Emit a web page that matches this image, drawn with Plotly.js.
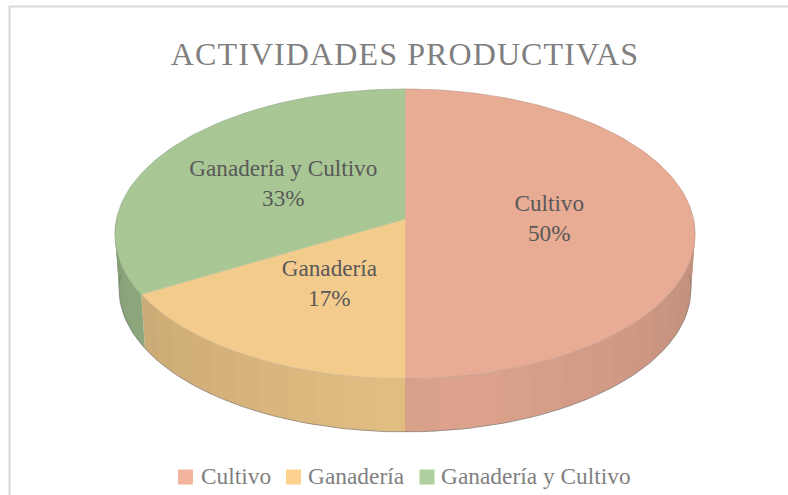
<!DOCTYPE html>
<html>
<head>
<meta charset="utf-8">
<script src="https://cdn.plot.ly/plotly-3.0.1.min.js"></script>
<style>
html,body{margin:0;padding:0;background:#fff;}
#chart{width:788px;height:495px;}
.gtitle{letter-spacing:1.1px;}
</style>
</head>
<body>
<div id="chart"></div>
<script>
const categories = ["Cultivo", "Ganadería", "Ganadería y Cultivo"];
const values = [50, 16.7, 33.3];
const topColors = ["#e8ab93", "#f3cb8c", "#a8c795"];
const legendColors = ["#f4b59e", "#fdd28f", "#aed09e"];
const titleText = "ACTIVIDADES PRODUCTIVAS";

const FONT = "'Liberation Serif','Times New Roman',serif";
const k = -0.1034, A = 143.4, B = 288.5, CX = 405, CY = 219;
const WALL_SCALE = 0.986, WALL_Y = 274.2;
const LABEL_DY = 1.5;
const LEGEND_Y = 477, LEGEND_TEXT_Y = 478, LEGEND_SWATCH = [185.5, 293.5, 427], LEGEND_TEXT = [201, 308, 441];

// Perspective projection of a point on the disc (angle clockwise from top, radius r)
function proj(deg, r, scale, y0) {
  const t = deg * Math.PI / 180;
  const u = r * Math.sin(t), v = -r * Math.cos(t), w = 1 + k * v;
  return [CX + scale * B * u / w, y0 + scale * A * v / w];
}
function topPt(d, r) { return proj(d, r === undefined ? 1 : r, 1, CY); }
function botPt(d) { return proj(d, 1, WALL_SCALE, WALL_Y); }
function shade(hex, f) {
  const n = parseInt(hex.slice(1), 16);
  const c = [n >> 16, (n >> 8) & 255, n & 255].map(x => Math.round(x * f));
  return "rgb(" + c.join(",") + ")";
}
function arc(a, b, fn) {
  const out = [], n = Math.max(2, Math.ceil(Math.abs(b - a) / 1.5));
  for (let i = 0; i <= n; i++) out.push(fn(a + (b - a) * i / n));
  return out;
}
function poly(pts, color, lineColor, lineWidth) {
  return {
    type: "scatter", mode: lineWidth === 0 ? "none" : "lines", fill: "toself", fillcolor: color,
    x: pts.map(p => p[0]), y: pts.map(p => p[1]),
    line: {color: lineColor || color, width: lineWidth === undefined ? 0.6 : lineWidth},
    showlegend: false, hoverinfo: "skip"
  };
}

const total = values.reduce((a, b) => a + b, 0);
const slices = [];
let acc = 0;
values.forEach((v, i) => {
  const start = acc / total * 360, end = (acc + v) / total * 360;
  slices.push({start, end, mid: (start + end) / 2, i});
  acc += v;
});

const traces = [];
// side walls, front half only
slices.forEach(s => {
  const a = Math.max(s.start, 90), b = Math.min(s.end, 270);
  if (b <= a) return;
  const n = Math.ceil((b - a) / 6);
  for (let j = 0; j < n; j++) {
    const d0 = a + (b - a) * j / n, d1 = a + (b - a) * (j + 1) / n;
    const f = 0.95 - 0.0016 * Math.abs((d0 + d1) / 2 - 170);
    const pad = j < n - 1 ? 1 : 0;
    const pts = arc(d0, d1 + pad, topPt).concat(arc(d1 + pad, d0, botPt));
    traces.push(poly(pts, shade(topColors[s.i], f), null, 0));
  }
});
// wall silhouette
const bottomEdge = arc(90, 270, botPt);
traces.push({type: "scatter", mode: "lines",
  x: bottomEdge.map(p => p[0]), y: bottomEdge.map(p => p[1]),
  line: {color: "rgba(120,120,120,0.65)", width: 1}, showlegend: false, hoverinfo: "skip"});
// top faces
slices.forEach(s => {
  const pts = [[CX, CY]].concat(arc(s.start, s.end, topPt)).concat([[CX, CY]]);
  traces.push(poly(pts, topColors[s.i]));
});
// outer rim of the top
const rim = arc(0, 360, topPt);
traces.push({type: "scatter", mode: "lines",
  x: rim.map(p => p[0]), y: rim.map(p => p[1]),
  line: {color: "rgba(130,130,130,0.35)", width: 0.8}, showlegend: false, hoverinfo: "skip"});
// data labels
const labelPts = slices.map(s => topPt(s.mid, 0.5));
traces.push({type: "scatter", mode: "text",
  x: labelPts.map(p => p[0]), y: labelPts.map(p => p[1] + LABEL_DY),
  text: slices.map(s => categories[s.i] + "<br>" + Math.round(values[s.i] / total * 100) + "%"),
  textposition: "middle center",
  textfont: {family: FONT, size: 23.2, color: "#595959"},
  showlegend: false, hoverinfo: "skip"});
// legend entries
categories.forEach((c, i) => {
  traces.push({type: "scatter", mode: "markers", name: c, x: [LEGEND_SWATCH[i]], y: [LEGEND_Y],
    marker: {symbol: "square", size: 15, color: legendColors[i]}, showlegend: false, hoverinfo: "skip"});
});
traces.push({type: "scatter", mode: "text", x: LEGEND_TEXT, y: categories.map(() => LEGEND_TEXT_Y),
  text: categories, textposition: "middle right",
  textfont: {family: FONT, size: 23.4, color: "#7f7f7f"}, showlegend: false, hoverinfo: "skip"});

const layout = {
  width: 788, height: 495,
  margin: {l: 0, r: 0, t: 0, b: 0, autoexpand: false},
  paper_bgcolor: "#fff", plot_bgcolor: "#fff",
  title: {text: titleText, x: 405 / 788, xanchor: "center", y: 1 - 54 / 495, yanchor: "middle",
          font: {family: FONT, size: 32, color: "#7f7f7f"}},
  xaxis: {range: [0, 788], visible: false, fixedrange: true},
  yaxis: {range: [495, 0], visible: false, fixedrange: true},
  showlegend: false,
  shapes: [
    {type: "line", xref: "x", yref: "y", x0: 9, y0: 6.5, x1: 788, y1: 6.5, line: {color: "#d9d9d9", width: 2}},
    {type: "line", xref: "x", yref: "y", x0: 9.5, y0: 6, x1: 9.5, y1: 495, line: {color: "#d9d9d9", width: 2}}
  ]
};
Plotly.newPlot("chart", traces, layout, {displayModeBar: false, staticPlot: true});
</script>
</body>
</html>
